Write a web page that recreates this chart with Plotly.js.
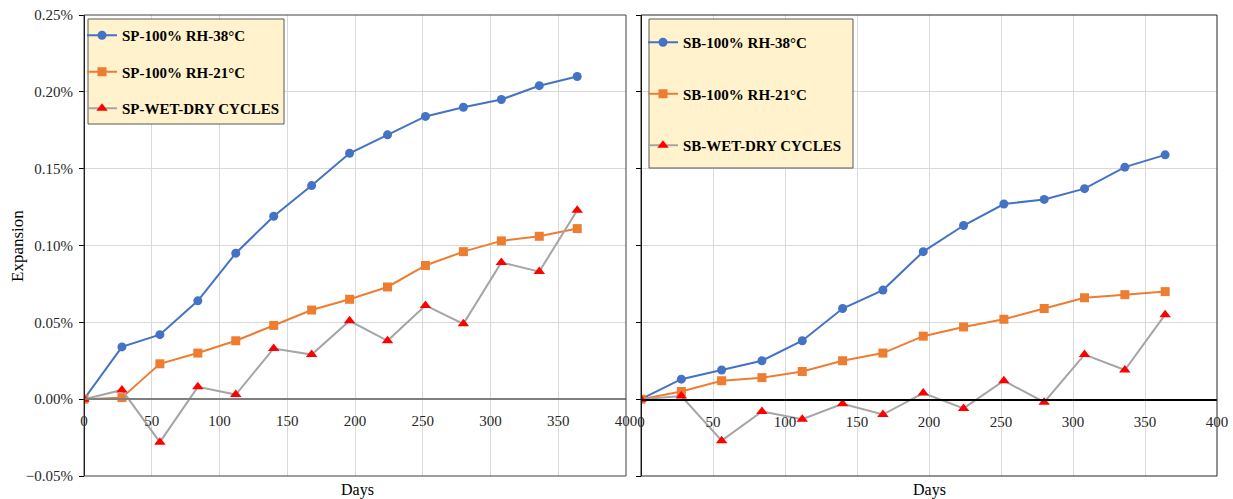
<!DOCTYPE html>
<html>
<head>
<meta charset="utf-8">
<script src="https://cdn.plot.ly/plotly-3.0.1.min.js"></script>
<style>html,body{margin:0;padding:0;background:#fff;}#chart{width:1233px;height:499px;}</style>
</head>
<body>
<div id="chart"></div>
<script>
// Data (expansion values in percent)
const days = [0, 28, 56, 84, 112, 140, 168, 196, 224, 252, 280, 308, 336, 364];
const sp38 = [0, 0.034, 0.042, 0.064, 0.095, 0.119, 0.139, 0.160, 0.172, 0.184, 0.190, 0.195, 0.204, 0.210];
const sp21 = [0, 0.001, 0.023, 0.030, 0.038, 0.048, 0.058, 0.065, 0.073, 0.087, 0.096, 0.103, 0.106, 0.111];
const spWetDry = [0, 0.006, -0.028, 0.008, 0.003, 0.033, 0.029, 0.051, 0.038, 0.061, 0.049, 0.089, 0.083, 0.123];
const sb38 = [0, 0.013, 0.019, 0.025, 0.038, 0.059, 0.071, 0.096, 0.113, 0.127, 0.130, 0.137, 0.151, 0.159];
const sb21 = [0, 0.005, 0.012, 0.014, 0.018, 0.025, 0.030, 0.041, 0.047, 0.052, 0.059, 0.066, 0.068, 0.070];
const sbWetDry = [0, 0.002, -0.027, -0.008, -0.013, -0.003, -0.010, 0.004, -0.006, 0.012, -0.002, 0.029, 0.019, 0.055];
const namesSP = ["SP-100% RH-38°C", "SP-100% RH-21°C", "SP-WET-DRY CYCLES"];
const namesSB = ["SB-100% RH-38°C", "SB-100% RH-21°C", "SB-WET-DRY CYCLES"];

const serif = "Liberation Serif, Times New Roman, serif";
const blue = "#4472C4", orange = "#ED7D31", grey = "#A5A5A5", red = "#FF0000";

function mk(y, name, xa, ya, legend, kind, grp) {
  const st = {
    circle: {line: blue, marker: {symbol: "circle", size: 9, color: blue}},
    square: {line: orange, marker: {symbol: "square", size: 9, color: orange}},
    tri: {line: grey, marker: {symbol: "triangle-up", size: 10, color: red}}
  }[kind];
  return {
    x: days, y: y, name: name, type: "scatter", mode: "lines+markers",
    xaxis: xa, yaxis: ya, legend: legend, legendgroup: grp,
    line: {color: st.line, width: 2}, marker: st.marker
  };
}

const traces = [
  mk(sp38, namesSP[0], "x", "y", "legend", "circle", "a"),
  mk(sp21, namesSP[1], "x", "y", "legend", "square", "b"),
  mk(spWetDry, namesSP[2], "x", "y", "legend", "tri", "c"),
  mk(sb38, namesSB[0], "x2", "y2", "legend2", "circle", "d"),
  mk(sb21, namesSB[1], "x2", "y2", "legend2", "square", "e"),
  mk(sbWetDry, namesSB[2], "x2", "y2", "legend2", "tri", "f")
];

const W = 1233, H = 499;
const yDom = [1 - 476 / H, 1 - 15 / H];
const zeroPos = 1 - 399 / H;
const tickFont = {family: serif, size: 15, color: "#262626"};

function xax(domain, lineColor, lw) {
  return {
    domain: domain, range: [0, 400], dtick: 50, tick0: 0,
    showgrid: true, gridcolor: "#D9D9D9", gridwidth: 1,
    zeroline: false, showline: true, linecolor: lineColor, linewidth: lw,
    anchor: "free", position: zeroPos,
    ticks: "", tickfont: tickFont, ticklabelstandoff: 8, fixedrange: true
  };
}
function yax(position, showLabels) {
  return {
    domain: yDom, range: [-0.05, 0.25], dtick: 0.05, tick0: 0,
    tickformat: ".2f", ticksuffix: "%", showticklabels: showLabels,
    showgrid: true, gridcolor: "#D9D9D9", gridwidth: 1,
    zeroline: false, showline: true, linecolor: "#000", linewidth: 1,
    ticks: "outside", ticklen: 5, tickcolor: "#000", ticklabelstandoff: 3,
    tickfont: tickFont, anchor: "free", position: position, fixedrange: true
  };
}

const xd1 = [84 / W, 626 / W], xd2 = [641 / W, 1217 / W];
const legFont = {family: serif, size: 15, color: "#000", weight: "bold"};

const layout = {
  width: W, height: H,
  margin: {l: 0, r: 0, t: 0, b: 0, pad: 0},
  paper_bgcolor: "#fff", plot_bgcolor: "#fff",
  font: {family: serif, size: 14, color: "#000"},
  showlegend: true,
  xaxis: xax(xd1, "#7F7F7F", 2),
  yaxis: yax(xd1[0], true),
  xaxis2: xax(xd2, "#000", 1.5),
  yaxis2: yax(xd2[0], false),
  legend: {
    x: 82 / W, y: 1 - 19 / H, xanchor: "left", yanchor: "top",
    bgcolor: "rgba(0,0,0,0)", borderwidth: 0, font: legFont,
    traceorder: "grouped", tracegroupgap: 14, itemwidth: 30
  },
  legend2: {
    x: 643 / W, y: 1 - 26 / H, xanchor: "left", yanchor: "top",
    bgcolor: "rgba(0,0,0,0)", borderwidth: 0, font: legFont,
    traceorder: "grouped", tracegroupgap: 29, itemwidth: 30
  },
  shapes: [
    {type: "rect", xref: "x domain", yref: "y domain", x0: 0, x1: 1, y0: 0, y1: 1,
     line: {color: "#404040", width: 1}, fillcolor: "rgba(0,0,0,0)", layer: "above"},
    {type: "rect", xref: "x2 domain", yref: "y2 domain", x0: 0, x1: 1, y0: 0, y1: 1,
     line: {color: "#262626", width: 1}, fillcolor: "rgba(0,0,0,0)", layer: "above"},
    {type: "rect", xref: "paper", yref: "paper", x0: 88 / W, x1: 284 / W, y0: 1 - 124 / H, y1: 1 - 19 / H,
     line: {color: "#595959", width: 1}, fillcolor: "#FFF2CC", layer: "above"},
    {type: "rect", xref: "paper", yref: "paper", x0: 649 / W, x1: 853 / W, y0: 1 - 168 / H, y1: 1 - 19 / H,
     line: {color: "#595959", width: 1}, fillcolor: "#FFF2CC", layer: "above"}
  ],
  annotations: [
    {text: "Expansion", xref: "paper", yref: "paper", x: 17 / W, y: 1 - 246 / H,
     xanchor: "center", yanchor: "middle",
     textangle: -90, showarrow: false, font: {family: serif, size: 17, color: "#000"}},
    {text: "Days", xref: "paper", yref: "paper", x: 357 / W, y: 1 - 490 / H,
     xanchor: "center", yanchor: "middle",
     showarrow: false, font: {family: serif, size: 16, color: "#000"}},
    {text: "Days", xref: "paper", yref: "paper", x: 929 / W, y: 1 - 490 / H,
     xanchor: "center", yanchor: "middle",
     showarrow: false, font: {family: serif, size: 16, color: "#000"}}
  ]
};

Plotly.newPlot("chart", traces, layout, {displayModeBar: false, staticPlot: true});
</script>
</body>
</html>
